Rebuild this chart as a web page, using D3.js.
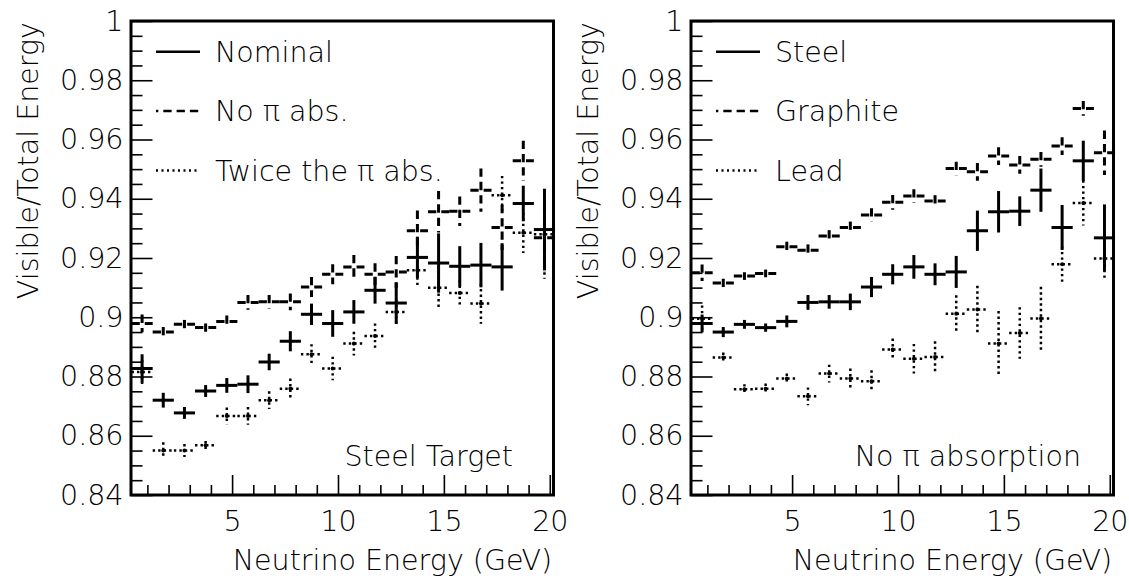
<!DOCTYPE html>
<html>
<head>
<meta charset="utf-8">
<script src="https://cdn.jsdelivr.net/npm/d3@7"></script>
<style>
  html, body { margin: 0; padding: 0; background: #fff; }
  svg { display: block; }
  text { font-family: "DejaVu Sans", sans-serif; font-weight: 200; fill: #000; }
</style>
</head>
<body>
<svg id="chart" width="1129" height="578"></svg>
<script>
// ---------------- data ----------------
const energy = [0.75, 1.75, 2.75, 3.75, 4.75, 5.75, 6.75, 7.75, 8.75, 9.75,
                10.75, 11.75, 12.75, 13.75, 14.75, 15.75, 16.75, 17.75, 18.75, 19.75];

// Left panel: Steel target
const nominal    = [0.8827,0.8720,0.8677,0.8751,0.8770,0.8774,0.8849,0.8919,0.9010,0.8979,
                    0.9018,0.9091,0.9048,0.9202,0.9183,0.9172,0.9176,0.9170,0.9384,0.9296];
const nominalErr = [0.0048,0.0025,0.0020,0.0020,0.0025,0.0030,0.0028,0.0034,0.0036,0.0045,
                    0.0040,0.0045,0.0070,0.0070,0.0100,0.0068,0.0075,0.0080,0.0060,0.0138];

const noAbs      = [0.8979,0.8950,0.8976,0.8965,0.8986,0.9050,0.9052,0.9052,0.9102,0.9145,
                    0.9170,0.9145,0.9153,0.9292,0.9356,0.9358,0.9429,0.9303,0.9528,0.9268];
const noAbsErr   = [0.0030,0.0017,0.0015,0.0014,0.0020,0.0025,0.0023,0.0028,0.0034,0.0034,
                    0.0040,0.0037,0.0054,0.0068,0.0070,0.0050,0.0073,0.0076,0.0068,0.0113];

const twice      = [0.8815,0.8550,0.8550,0.8568,0.8667,0.8667,0.8720,0.8759,0.8875,0.8827,
                    0.8911,0.8937,0.9018,0.9159,0.9100,0.9082,0.9046,0.9412,0.9285,0.9280];
const twiceErr   = [0.0040,0.0028,0.0022,0.0014,0.0028,0.0030,0.0030,0.0034,0.0034,0.0040,
                    0.0040,0.0042,0.0042,0.0050,0.0073,0.0043,0.0068,0.0065,0.0068,0.0150];

// Right panel: no pi absorption
const steel      = noAbs;
const steelErr   = noAbsErr;
const graphite   = [0.9150,0.9116,0.9139,0.9148,0.9238,0.9226,0.9274,0.9303,0.9345,0.9388,
                    0.9409,0.9392,0.9502,0.9491,0.9544,0.9514,0.9533,0.9578,0.9705,0.9555];
const graphiteErr= [0.0028,0.0014,0.0013,0.0013,0.0017,0.0020,0.0020,0.0020,0.0023,0.0025,
                    0.0023,0.0020,0.0023,0.0030,0.0030,0.0030,0.0025,0.0030,0.0025,0.0075];
const lead       = [0.8995,0.8864,0.8757,0.8759,0.8793,0.8733,0.8810,0.8793,0.8784,0.8891,
                    0.8860,0.8866,0.9012,0.9026,0.8911,0.8947,0.8996,0.9179,0.9386,0.9198];
const leadErr    = [0.0045,0.0017,0.0017,0.0017,0.0017,0.0030,0.0030,0.0034,0.0037,0.0037,
                    0.0050,0.0053,0.0062,0.0080,0.0110,0.0087,0.0107,0.0060,0.0076,0.0073];

const binHalfWidth = 0.5;
const xDomain = [0.25, 20.2];
const yDomain = [0.84, 1.0];
const xMajorTicks = [5, 10, 15, 20];
const xMinorTicks = [1,2,3,4,6,7,8,9,11,12,13,14,16,17,18,19];
const yMajorTicks = [0.84,0.86,0.88,0.90,0.92,0.94,0.96,0.98,1.0];
const yTickLabels = ["0.84","0.86","0.88","0.9","0.92","0.94","0.96","0.98","1"];
const xTitle = "Neutrino Energy (GeV)";
const yTitle = "Visible/Total Energy";

const leftLegend  = ["Nominal", "No \u03c0 abs.", "Twice the \u03c0 abs."];
const rightLegend = ["Steel", "Graphite", "Lead"];

// ---------------- drawing ----------------
const FS = 28.5;
const svg = d3.select("#chart");
const styles = {
  solid:  { width: 3,   dash: null },
  dashed: { width: 3,   dash: "8.3,5" },
  dotted: { width: 2.5, dash: "2.4,3.1" }
};

function panel(offsetX, series, legendLabels, note) {
  const x0 = 131.5 + offsetX, x1 = 554 + offsetX;
  const yTop = 21, yBot = 495;
  const x = d3.scaleLinear().domain(xDomain).range([x0, x1]);
  const y = d3.scaleLinear().domain(yDomain).range([yBot, yTop]);
  const yMinor = d3.range(0.845, 1.0, 0.005).filter(v => Math.abs(v / 0.02 - Math.round(v / 0.02)) > 0.01);

  const g = svg.append("g");

  g.append("g").attr("transform", `translate(0,${yBot})`)
    .call(d3.axisBottom(x).tickValues(xMinorTicks).tickSize(-10).tickFormat(""))
    .call(s => s.select(".domain").remove())
    .call(s => s.selectAll("line").attr("stroke", "#000").attr("stroke-width", 1.6));
  g.append("g").attr("transform", `translate(0,${yBot})`)
    .call(d3.axisBottom(x).tickValues(xMajorTicks).tickSize(-20).tickPadding(16).tickFormat(d3.format("d")))
    .call(s => s.select(".domain").remove())
    .call(s => s.selectAll("line").attr("stroke", "#000").attr("stroke-width", 1.6))
    .call(s => s.selectAll("text").attr("font-size", FS).attr("font-family", "DejaVu Sans").attr("fill", "#000"));
  g.append("g").attr("transform", `translate(${x0},0)`)
    .call(d3.axisLeft(y).tickValues(yMinor).tickSize(-11).tickFormat(""))
    .call(s => s.select(".domain").remove())
    .call(s => s.selectAll("line").attr("stroke", "#000").attr("stroke-width", 1.6));
  g.append("g").attr("transform", `translate(${x0},0)`)
    .call(d3.axisLeft(y).tickValues(yMajorTicks).tickSize(-21).tickPadding(8)
      .tickFormat((d, i) => yTickLabels[i]))
    .call(s => s.select(".domain").remove())
    .call(s => s.selectAll("line").attr("stroke", "#000").attr("stroke-width", 1.6))
    .call(s => s.selectAll("text").attr("font-size", FS).attr("font-family", "DejaVu Sans").attr("fill", "#000"));

  series.forEach(s => {
    const st = styles[s.style];
    const gs = g.append("g")
      .attr("stroke", "#000").attr("stroke-width", st.width).attr("fill", "none");
    if (st.dash) gs.attr("stroke-dasharray", st.dash);
    energy.forEach((e, i) => {
      const v = s.values[i], err = s.errors[i];
      gs.append("line")
        .attr("x1", x(e - binHalfWidth)).attr("x2", x(e + binHalfWidth))
        .attr("y1", y(v)).attr("y2", y(v));
      gs.append("line")
        .attr("x1", x(e)).attr("x2", x(e))
        .attr("y1", y(v + err)).attr("y2", y(v - err));
      if (s.style === "dotted") {
        g.append("circle").attr("cx", x(e)).attr("cy", y(v)).attr("r", 2)
          .attr("fill", "#000");
      }
    });
  });

  g.append("rect")
    .attr("x", x0 - 0.5).attr("y", yTop)
    .attr("width", x1 - x0).attr("height", yBot - yTop)
    .attr("fill", "none").attr("stroke", "#000").attr("stroke-width", 3);

  const legY = [51.7, 111, 170.5];
  series.forEach((s, i) => {
    const ln = g.append("line")
      .attr("x1", 156 + offsetX).attr("x2", 200 + offsetX)
      .attr("y1", legY[i]).attr("y2", legY[i])
      .attr("stroke", "#000").attr("stroke-width", s.style === "solid" ? 2.6 : 2.4);
    if (s.style === "dashed") ln.attr("stroke-dasharray", "8.3,5").attr("stroke-dashoffset", 6);
    if (s.style === "dotted") ln.attr("stroke-dasharray", "2,3.5");
    g.append("text")
      .attr("x", 215 + offsetX).attr("y", legY[i] + 10)
      .attr("font-size", FS)
      .text(legendLabels[i]);
  });

  g.append("text")
    .attr("x", note.x + offsetX).attr("y", 466)
    .attr("text-anchor", "end").attr("font-size", FS)
    .text(note.text);

  g.append("text")
    .attr("x", 552 + offsetX).attr("y", 570)
    .attr("text-anchor", "end").attr("font-size", FS)
    .text(xTitle);
  g.append("text")
    .attr("transform", `translate(${38 + offsetX},22) rotate(-90)`)
    .attr("text-anchor", "end").attr("font-size", FS)
    .text(yTitle);
}

panel(0, [
  { values: nominal, errors: nominalErr, style: "solid" },
  { values: noAbs,   errors: noAbsErr,   style: "dashed" },
  { values: twice,   errors: twiceErr,   style: "dotted" }
], leftLegend, { text: "Steel Target", x: 513 });

panel(560, [
  { values: steel,    errors: steelErr,    style: "solid" },
  { values: graphite, errors: graphiteErr, style: "dashed" },
  { values: lead,     errors: leadErr,     style: "dotted" }
], rightLegend, { text: "No \u03c0 absorption", x: 521 });
</script>
</body>
</html>
